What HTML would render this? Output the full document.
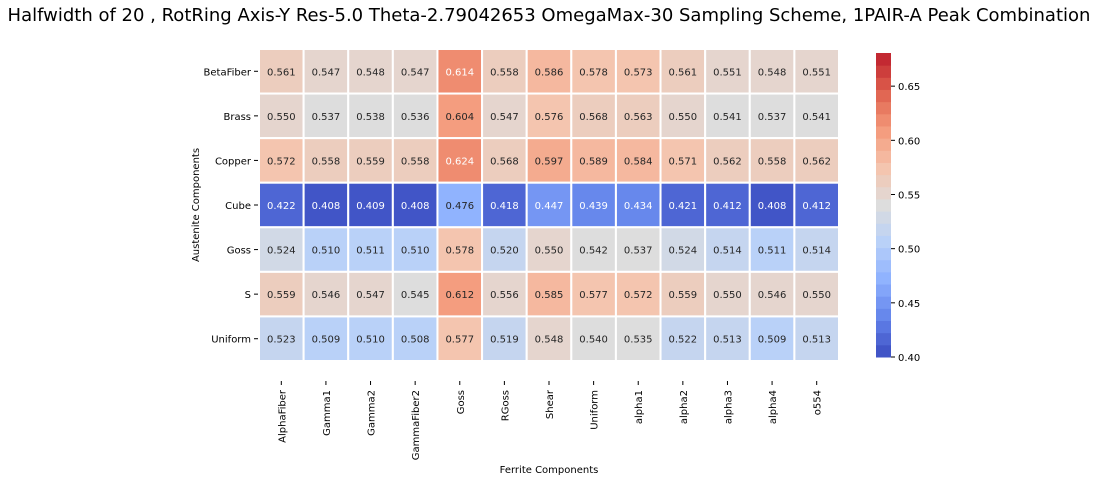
<!DOCTYPE html>
<html><head><meta charset="utf-8"><style>
body{margin:0;background:#fff;font-family:"DejaVu Sans","Liberation Sans",sans-serif}
text{font-family:"DejaVu Sans","Liberation Sans",sans-serif}
</style></head><body>
<svg id="chart" width="1099" height="482" xmlns="http://www.w3.org/2000/svg">
<text x="549" y="21" font-size="18" text-anchor="middle" fill="#000">Halfwidth of 20 , RotRing Axis-Y Res-5.0 Theta-2.79042653 OmegaMax-30 Sampling Scheme, 1PAIR-A Peak Combination</text>
<text x="549" y="473" font-size="10" text-anchor="middle">Ferrite Components</text>
<text transform="translate(199,205) rotate(-90)" font-size="10" text-anchor="middle">Austenite Components</text>
<g id="cells"></g><g id="xt"></g><g id="yt"></g><g id="cbar"></g>
</svg>
<script>
const cols=["AlphaFiber","Gamma1","Gamma2","GammaFiber2","Goss","RGoss","Shear","Uniform","alpha1","alpha2","alpha3","alpha4","o554"];
const rows=["BetaFiber","Brass","Copper","Cube","Goss","S","Uniform"];
const vBetaFiber=[0.561,0.547,0.548,0.547,0.614,0.558,0.586,0.578,0.573,0.561,0.551,0.548,0.551];
const vBrass=[0.550,0.537,0.538,0.536,0.604,0.547,0.576,0.568,0.563,0.550,0.541,0.537,0.541];
const vCopper=[0.572,0.558,0.559,0.558,0.624,0.568,0.597,0.589,0.584,0.571,0.562,0.558,0.562];
const vCube=[0.422,0.408,0.409,0.408,0.476,0.418,0.447,0.439,0.434,0.421,0.412,0.408,0.412];
const vGoss=[0.524,0.510,0.511,0.510,0.578,0.520,0.550,0.542,0.537,0.524,0.514,0.511,0.514];
const vS=[0.559,0.546,0.547,0.545,0.612,0.556,0.585,0.577,0.572,0.559,0.550,0.546,0.550];
const vUniform=[0.523,0.509,0.510,0.508,0.577,0.519,0.548,0.540,0.535,0.522,0.513,0.509,0.513];
const values=[vBetaFiber,vBrass,vCopper,vCube,vGoss,vS,vUniform];
const cbTicks=[0.40,0.45,0.50,0.55,0.60,0.65];
const vmin=0.40,vmax=0.6806,nBins=25;
const NS="http://www.w3.org/2000/svg";
const X0=259,X1=839,Y0=49,Y1=361;
const cw=(X1-X0)/cols.length,ch=(Y1-Y0)/rows.length;
const xs=i=>X0+i*cw, ys=j=>Y0+j*ch;
const CB={x:876,w:15,top:53,bot:357};
const cy=v=>CB.bot-(v-vmin)/(vmax-vmin)*(CB.bot-CB.top);
const stops=[[59,76,192],[98,130,234],[141,176,254],[184,208,249],[221,221,221],[245,196,173],[244,154,123],[222,96,77],[190,30,45]];
function cm(t){t=Math.max(0,Math.min(1,t));const p=t*8,i=Math.min(7,Math.floor(p)),f=p-i;return stops[i].map((a,k)=>a+(stops[i+1][k]-a)*f);}
function binColor(v){let b=Math.floor((v-vmin)/(vmax-vmin)*nBins);b=Math.max(0,Math.min(nBins-1,b));return cm((b+0.5)/nBins);}
const rgb=c=>`rgb(${c.map(Math.round).join(',')})`;
function lum(c){const l=c.map(x=>{x/=255;return x<=0.03928?x/12.92:Math.pow((x+0.055)/1.055,2.4)});return 0.2126*l[0]+0.7152*l[1]+0.0722*l[2];}
function mk(tag,attrs,parent){const e=document.createElementNS(NS,tag);for(const k in attrs)e.setAttribute(k,attrs[k]);parent.appendChild(e);return e;}
const gc=document.getElementById('cells');
values.forEach((row,j)=>row.forEach((v,i)=>{
  const c=binColor(v);
  const r=mk('rect',{x:xs(i),y:ys(j),width:cw,height:ch,fill:rgb(c),stroke:'#fff','stroke-width':2},gc);
  
  
  const t=mk('text',{x:xs(i)+cw/2,y:ys(j)+ch/2+4,'font-size':10,'text-anchor':'middle',fill:lum(c)>0.408?'#262626':'#fff'},gc);
  t.textContent=v.toFixed(3);
  
  
}));
const gx=document.getElementById('xt');
cols.forEach((c,i)=>{
  const x=xs(i)+cw/2;
  mk('line',{x1:x,x2:x,y1:Y1+20,y2:Y1+24,stroke:'#000'},gx);
  const t=mk('text',{transform:`translate(${x+4},${Y1+29}) rotate(-90)`,'font-size':10,'text-anchor':'end'},gx);
  t.textContent=c;
  
  
});
const gy=document.getElementById('yt');
rows.forEach((r,j)=>{
  const y=ys(j)+ch/2;
  mk('line',{x1:X0-5,x2:X0-1,y1:y,y2:y,stroke:'#000'},gy);
  const t=mk('text',{x:X0-8,y:y+4,'font-size':10,'text-anchor':'end'},gy);
  t.textContent=r;
  
  
});
const gb=document.getElementById('cbar');
for(let b=0;b<nBins;b++){
  const lo=vmin+b*(vmax-vmin)/nBins,hi=vmin+(b+1)*(vmax-vmin)/nBins;
  const r=mk('rect',{x:CB.x,y:cy(hi),width:CB.w,height:cy(lo)-cy(hi)+0.5,fill:rgb(cm((b+0.5)/nBins))},gb);
  
  
}
cbTicks.forEach(v=>{
  const y=cy(v);
  mk('line',{x1:CB.x+CB.w,x2:CB.x+CB.w+4,y1:y,y2:y,stroke:'#000'},gb);
  const t=mk('text',{x:CB.x+CB.w+7,y:y+4,'font-size':10},gb);
  t.textContent=v.toFixed(2);
  
  
});
</script>
</body></html>
